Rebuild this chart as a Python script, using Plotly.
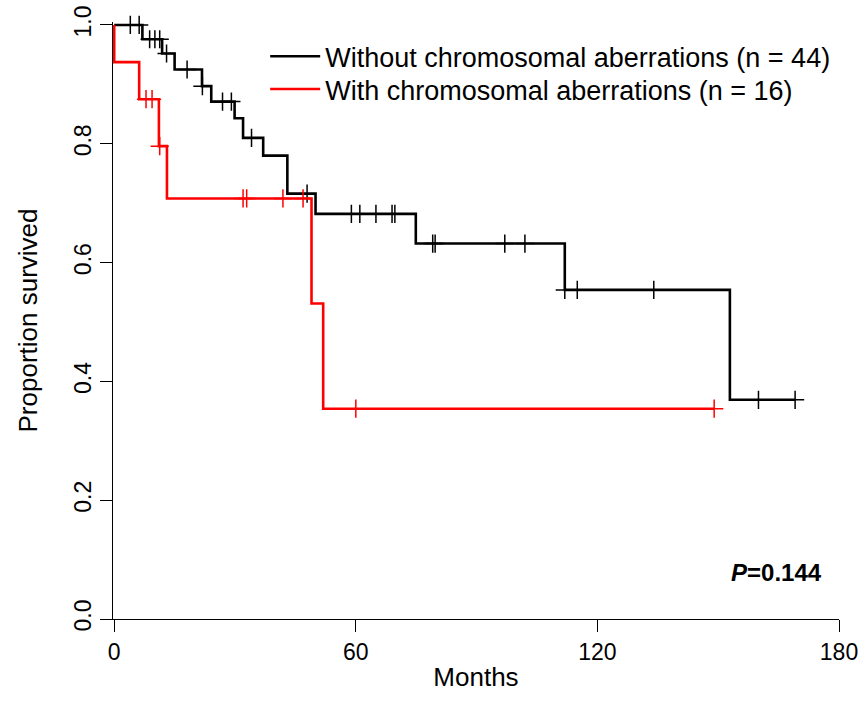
import numpy as np
import plotly.graph_objects as go

# ---- data ----
black_times = [0, 7.0, 11.9, 15.0, 21.8, 24.1, 29.9, 32.0, 37.0, 43.0, 50.0, 74.9, 111.9, 152.9, 169.1]
black_surv = [1.0, 0.976, 0.952, 0.925, 0.897, 0.871, 0.843, 0.810, 0.780, 0.716, 0.682, 0.632, 0.554, 0.369, 0.369]
black_censor = [4.0, 6.2, 8.8, 10.1, 11.3, 13.0, 18.1, 21.9, 26.9, 29.1, 34.1, 47.9,
                58.9, 61.0, 65.0, 69.0, 69.7, 79.1, 79.7, 97.0, 102.0, 111.9, 115.0, 134.0, 160.0, 169.1]

red_times = [0, 0, 6.2, 11.1, 13.1, 49.0, 51.9, 149.0]
red_surv = [1.0, 0.9375, 0.875, 0.796, 0.708, 0.531, 0.354, 0.354]
red_censor = [7.9, 9.4, 11.3, 32.0, 32.9, 41.9, 46.9, 60.0, 149.0]

labels = ["Without chromosomal aberrations (n = 44)", "With chromosomal aberrations (n = 16)"]
colors = ["#000000", "#FF0000"]
x_ticks = [0, 60, 120, 180]
y_ticks = [0.0, 0.2, 0.4, 0.6, 0.8, 1.0]
p_text = "<b><i>P</i>=0.144</b>"

FONT = "Liberation Sans, Arial, sans-serif"


def step_at(times, surv, t):
    idx = np.searchsorted(np.array(times), np.array(t), side="right") - 1
    return np.array(surv)[idx]


fig = go.Figure()
series = [(black_times, black_surv, black_censor), (red_times, red_surv, red_censor)]
legend_ids = ["legend", "legend2"]
for (tt, ss, cc), lab, col, lid in zip(series, labels, colors, legend_ids):
    fig.add_trace(go.Scatter(x=tt, y=ss, mode="lines", line=dict(color=col, width=2.6, shape="hv"),
                             name=lab, showlegend=True, legend=lid))
    fig.add_trace(go.Scatter(x=cc, y=step_at(tt, ss, cc), mode="markers",
                             marker=dict(symbol="cross-thin", size=13, color=col,
                                         line=dict(color=col, width=1.5)),
                             showlegend=False, cliponaxis=False, hoverinfo="skip"))

fig.add_annotation(text=p_text, xref="paper", yref="paper", x=0.98, y=0.078,
                   xanchor="right", yanchor="middle", showarrow=False,
                   font=dict(family=FONT, size=24, color="black"))

axis_common = dict(showgrid=False, zeroline=False, showline=True, linecolor="black", linewidth=1.2,
                   ticks="outside", ticklen=12, tickwidth=1.2, tickcolor="black", automargin=False,
                   tickfont=dict(family=FONT, size=23, color="black"))

legend_common = dict(xanchor="left", yanchor="middle", bgcolor="rgba(0,0,0,0)", itemwidth=50,
                     font=dict(family=FONT, size=27, color="black"))

fig.update_layout(
    width=868, height=719,
    margin=dict(l=113, r=29, t=22, b=100, pad=0),
    plot_bgcolor="white", paper_bgcolor="white",
    font=dict(family=FONT, color="black"),
    xaxis=dict(range=[-0.3, 180], tickvals=x_ticks, ticktext=[str(v) for v in x_ticks],
               title=dict(text="Months", font=dict(family=FONT, size=26), standoff=4),
               **axis_common),
    yaxis=dict(range=[0, 1.005], tickvals=y_ticks, ticktext=[f"{v:.1f}" for v in y_ticks],
               tickangle=-90,
               title=dict(text="Proportion survived", font=dict(family=FONT, size=26), standoff=24),
               **axis_common),
    legend=dict(x=0.2096, y=0.942, **legend_common),
    legend2=dict(x=0.2096, y=0.887, **legend_common),
    showlegend=True,
)

fig.write_html("out.html")
